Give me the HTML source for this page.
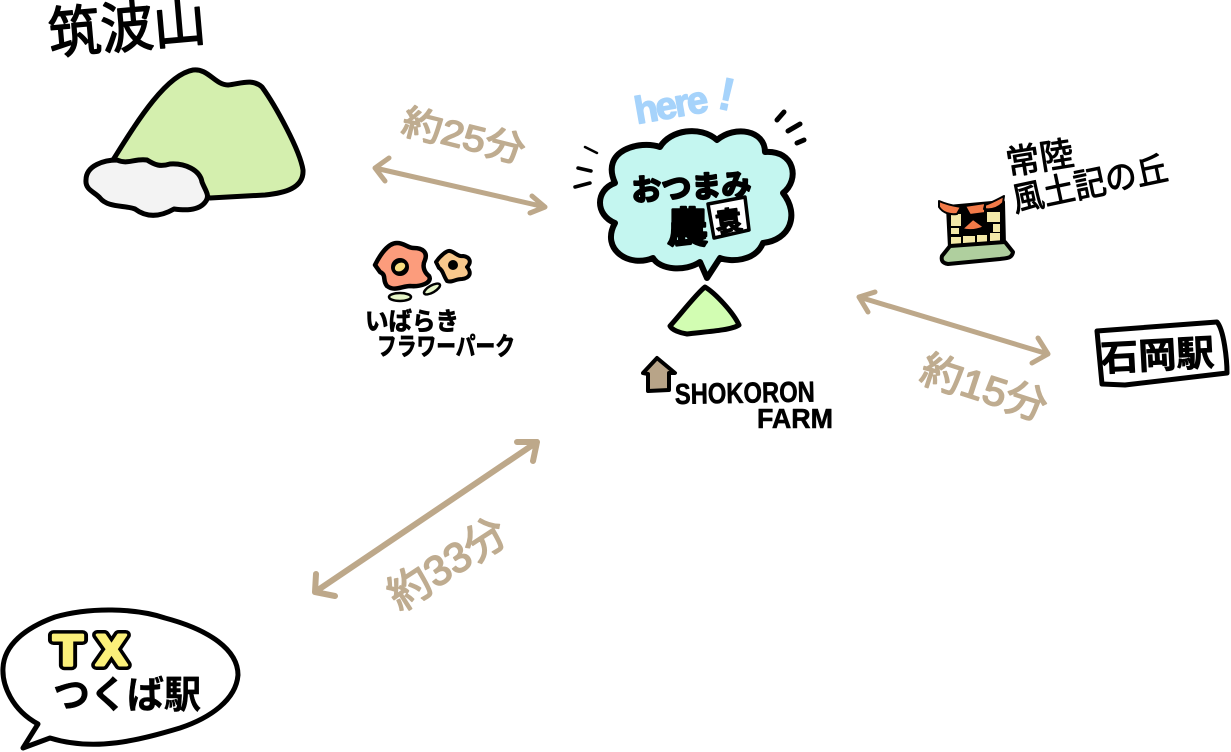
<!DOCTYPE html>
<html><head><meta charset="utf-8"><style>
html,body{margin:0;padding:0;background:#fff;width:1231px;height:752px;overflow:hidden}
svg{display:block}
text{font-family:"Liberation Sans","Noto Sans CJK JP",sans-serif;font-weight:400}
.b{font-weight:700}
.k{fill:#000;stroke:#000;stroke-linejoin:round}
.t{fill:#bfac90;stroke:#bfac90;stroke-width:1.6}
</style></head><body>
<svg width="1231" height="752" viewBox="0 0 1231 752" xmlns="http://www.w3.org/2000/svg">
<g stroke-linejoin="round" stroke-linecap="round">
<!-- Mountain -->
<path d="M113 160 C135 125 165 75 193 70 C208 68 215 85 228 85 C240 84 252 78 262 87 C275 105 300 150 303 170 C304 188 285 193 265 195 L210 198 Z" fill="#d4efae" stroke="#000" stroke-width="5"/>
<path d="M86 180 C86 165 105 160 117 160 C128 165 135 158 147 160 C155 165 160 167 170 164 C185 163 200 170 202 182 C205 190 210 195 206 201 C199 212 182 210 174 209 C160 217 147 218 135 209 C125 205 108 208 100 198 C95 192 85 190 86 180 Z" fill="#f3f3f3" stroke="#000" stroke-width="5"/>
<text x="50" y="54" font-size="56" class="k" stroke-width="1.5" transform="rotate(-5 50 54)" textLength="158" lengthAdjust="spacingAndGlyphs">筑波山</text>

<!-- Arrows -->
<g fill="none" stroke="#bda88a" stroke-width="5">
<path d="M375 168 L545 207 M389 158 L375 168 L385 181 M532 196 L545 207 L530 213"/>
<path d="M859 297 L1048 354 M875 292 L859 297 L868 312 M1038 338 L1048 354 L1032 363"/>
<path d="M315 592 L537 442 M316 574 L315 592 L335 596 M517 442 L537 442 L533 461" stroke-width="6"/>
</g>
<text x="400" y="133" font-size="36" class="t" transform="rotate(14 400 133)" textLength="125" lengthAdjust="spacingAndGlyphs">約25分</text>
<text x="918" y="381" font-size="40" class="t" transform="rotate(18 918 381)" textLength="130" lengthAdjust="spacingAndGlyphs">約15分</text>
<text x="400" y="612" font-size="42" class="t" transform="rotate(-33 400 612)" textLength="132" lengthAdjust="spacingAndGlyphs">約33分</text>

<!-- here -->
<text x="637" y="124" font-size="38" class="b" fill="#a6d3fb" stroke="#a6d3fb" stroke-width="1.5" transform="rotate(-10 637 124)" textLength="74" lengthAdjust="spacing">here</text>
<text x="716" y="108" font-size="46" class="b" fill="#a6d3fb" stroke="#a6d3fb" stroke-width="1" transform="rotate(12 716 108)">!</text>

<!-- Dashes -->
<g fill="none" stroke="#000">
<path d="M777 120 L784 112 M788 131 L800 124 M797 143 L804 140" stroke-width="5"/>
<path d="M585 147 L597 153" stroke-width="2.5"/>
<path d="M578 168 L591 171 M575 187 L590 183" stroke-width="3.5"/>
</g>

<!-- Cloud bubble -->
<path d="M615 183 C600 150 640 140 660 147 C670 130 700 125 717 140 C735 125 765 130 765 152 C795 150 800 180 783 193 C800 215 790 240 763 243 C755 262 730 262 720 258 L707 278 L700 262 C685 272 660 270 653 258 C630 268 600 250 615 223 C595 215 595 190 615 183 Z" fill="#c4f6f0" stroke="#000" stroke-width="6"/>
<text x="632" y="201" font-size="30" class="k b" stroke-width="2" transform="rotate(-3 632 201)" textLength="120" lengthAdjust="spacingAndGlyphs">おつまみ</text>
<text x="667" y="242" font-size="41" class="k b" stroke-width="2.5">農</text>
<path d="M708 204 L745 197 L749 230 L714 238 Z" fill="#fff" stroke="#000" stroke-width="3.5"/>
<text x="715" y="231" font-size="27" class="k b" stroke-width="1.5" transform="rotate(-8 727 220)">袁</text>

<!-- Farm triangle -->
<path d="M705 287 C715 293 733 312 739 325 C730 331 700 332 687 334 C680 333 672 330 670 326 C680 315 697 293 705 287 Z" fill="#d2fdb2" stroke="#000" stroke-width="5"/>

<!-- House -->
<path d="M657 358 L675 373 L669 373 L669 390 L648 391 L648 374 L643 373 Z" fill="#b8a488" stroke="#000" stroke-width="4"/>
<text x="675" y="404" font-size="29" class="k b" stroke-width="0.6" textLength="140" lengthAdjust="spacingAndGlyphs" transform="rotate(-1 675 404)">SHOKORON</text>
<text x="757" y="428" font-size="28" class="k b" stroke-width="0.6" textLength="76" lengthAdjust="spacingAndGlyphs">FARM</text>

<!-- Flowers -->
<path d="M375 265 C380 255 388 243 397 243 C405 243 407 248 414 248 C422 248 428 252 425 260 C422 266 424 272 429 276 C433 283 420 287 410 286 C402 286 395 292 387 286 C382 280 387 275 380 272 Z" fill="#fc9c7c" stroke="#000" stroke-width="4.5"/>
<ellipse cx="400" cy="267" rx="9" ry="9" fill="#000"/>
<ellipse cx="400" cy="267" rx="5.5" ry="4" fill="#f8dd80" transform="rotate(-30 400 267)"/>
<path d="M436 262 C440 256 447 250 450 251 C455 252 458 257 463 256 C470 257 472 262 467 267 C472 273 470 278 462 279 C455 279 452 283 447 281 C443 275 443 270 439 268 Z" fill="#f8c88c" stroke="#000" stroke-width="4"/>
<circle cx="453" cy="265" r="5" fill="#000"/>
<ellipse cx="400" cy="297" rx="11" ry="4" fill="#e6f5c8" stroke="#000" stroke-width="2.5"/>
<ellipse cx="432" cy="289" rx="9" ry="3.5" fill="#e6f5c8" stroke="#000" stroke-width="2.5" transform="rotate(-30 432 289)"/>
<text x="365" y="330" font-size="25" class="k b" stroke-width="0.8" textLength="94" lengthAdjust="spacingAndGlyphs">いばらき</text>
<text x="377" y="355" font-size="25" class="k b" stroke-width="0.8" textLength="138" lengthAdjust="spacingAndGlyphs">フラワーパーク</text>

<!-- Castle -->
<path d="M948 207 L1003 202 L1004 245 L950 248 Z" fill="#000" stroke="#000" stroke-width="4"/>
<g fill="#f3e9a8">
<rect x="951" y="214" width="10" height="12"/><rect x="987" y="212" width="13" height="10"/>
<rect x="951" y="228" width="8" height="6"/><rect x="993" y="224" width="7" height="8"/>
<rect x="951" y="237" width="10" height="7"/><rect x="963" y="236" width="12" height="7"/>
<rect x="977" y="235" width="10" height="7"/><rect x="990" y="233" width="10" height="8"/>
</g>
<path d="M939 201 C948 205 955 206 961 207 L957 214 C950 215 943 213 939 207 Z M985 205 C993 202 1000 198 1004 196 L1003 203 C997 209 990 210 984 209 Z M965 206 L985 203 L985 213 L970 215 Z M962 229 L973 219 L984 227 Q973 232 962 229 Z" fill="#f27a48" stroke="#000" stroke-width="2"/>
<path d="M950 246 L1005 242 L1013 252 C1012 258 1008 258 1000 259 L948 264 C942 263 941 260 942 256 Z" fill="#afcf9e" stroke="#000" stroke-width="4"/>
<text x="1008" y="175" font-size="34" class="k" stroke-width="1" transform="rotate(-9 1008 175)" textLength="68" lengthAdjust="spacingAndGlyphs">常陸</text>
<text x="1015" y="212" font-size="34" class="k" stroke-width="1" transform="rotate(-12 1015 212)" textLength="158" lengthAdjust="spacingAndGlyphs">風土記の丘</text>

<!-- Ishioka -->
<path d="M1097 331 L1217 322 C1224 330 1227 360 1227 373 L1125 385 L1102 384 Z" fill="#fff" stroke="#000" stroke-width="5"/>
<text x="1101" y="371" font-size="36" class="k b" stroke-width="0.8" transform="rotate(-3 1101 371)" textLength="114" lengthAdjust="spacingAndGlyphs">石岡駅</text>

<!-- TX bubble -->
<path d="M38 724 C12 710 2 685 3 668 C4 645 25 628 55 617 C90 607 135 608 165 618 C210 630 238 650 238 675 C236 700 210 718 180 728 C140 740 95 752 50 738 L23 748 Z" fill="#fff" stroke="#000" stroke-width="5"/>
<g font-size="44">
<text x="53" y="665" class="b" fill="#000" stroke="#000" stroke-width="10" textLength="30" lengthAdjust="spacingAndGlyphs">T</text>
<text x="96" y="665" class="b" fill="#000" stroke="#000" stroke-width="10" textLength="31" lengthAdjust="spacingAndGlyphs">X</text>
<text x="53" y="665" class="b" fill="#fbf07a" stroke="#fbf07a" stroke-width="3" textLength="30" lengthAdjust="spacingAndGlyphs">T</text>
<text x="96" y="665" class="b" fill="#fbf07a" stroke="#fbf07a" stroke-width="3" textLength="31" lengthAdjust="spacingAndGlyphs">X</text>
</g>
<text x="53" y="708" font-size="38" class="k b" stroke-width="0.5" textLength="148" lengthAdjust="spacingAndGlyphs">つくば駅</text>
</g>
</svg>
</body></html>
